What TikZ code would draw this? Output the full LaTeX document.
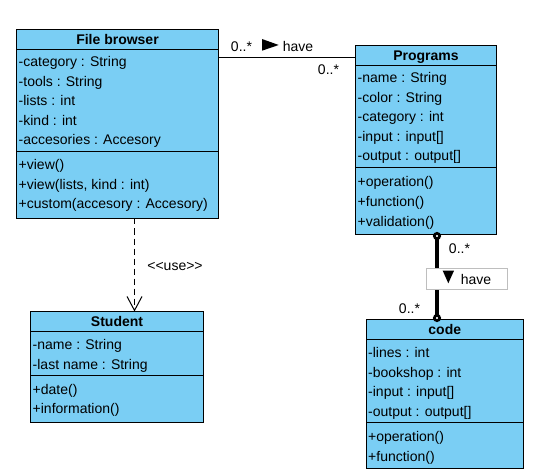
\documentclass[tikz,border=0pt]{standalone}
\usepackage{fontspec}
\setmainfont{Liberation Sans}
\usetikzlibrary{arrows.meta}
\definecolor{classblue}{RGB}{122,206,244}
\definecolor{labelgray}{RGB}{190,190,190}
\begin{document}
\begin{tikzpicture}[x=1pt, y=-1pt, font=\fontsize{14}{17}\selectfont]
       \tikzset{>=latex}
       \tikzset{classbox/.style={draw, fill=classblue, line width=1pt, inner sep=0pt, outer sep=0pt},
                classtitle/.style={font=\fontsize{14}{17}\selectfont\bfseries, inner sep=0pt, text height=10pt, text depth=0pt},
                member/.style={anchor=west, inner sep=0pt, text height=13pt, text depth=3pt},
                mult/.style={inner sep=0pt},
                labelbox/.style={draw=labelgray, fill=white, line width=1pt, inner sep=0pt},
                endball/.style={circle, draw=black, fill=white, line width=2.7pt, minimum size=5.3pt, inner sep=0pt}}
       \useasboundingbox (0,0) rectangle (538,473);

       \node[classbox, minimum width=202, minimum height=189] (browser) at (117.5,124) {};
       \node[classbox, minimum width=141, minimum height=188.5] (programs) at (426,139.75) {};
       \node[classbox, minimum width=173, minimum height=111] (student) at (117,367) {};
       \node[classbox, minimum width=157.5, minimum height=149] (code) at (444.75,394) {};

       \draw[line width=1pt] (16.5,49.5) -- (218.5,49.5);
       \draw[line width=1pt] (16.5,151.3) -- (218.5,151.3);
       \draw[line width=1pt] (355.5,65.3) -- (496.5,65.3);
       \draw[line width=1pt] (355.5,167.3) -- (496.5,167.3);
       \draw[line width=1pt] (30.5,331.7) -- (203.5,331.7);
       \draw[line width=1pt] (30.5,375.7) -- (203.5,375.7);
       \draw[line width=1pt] (366,339.3) -- (523.5,339.3);
       \draw[line width=1pt] (366,422.7) -- (523.5,422.7);

       \node[classtitle] (bt) at (117.5,39.5) {File browser};
       \node[member] (b1) at (18.5,62) {-category : String};
       \node[member] (b2) at (18.5,81.5) {-tools : String};
       \node[member] (b3) at (18.5,101) {-lists : int};
       \node[member] (b4) at (18.5,120.5) {-kind : int};
       \node[member] (b5) at (18.5,140) {-accesories : Accesory};
       \node[member] (b6) at (18.5,165) {+view()};
       \node[member] (b7) at (18.5,184.5) {+view(lists, kind : int)};
       \node[member] (b8) at (18.5,204) {+custom(accesory : Accesory)};

       \node[classtitle] (pt) at (426,55.5) {Programs};
       \node[member] (p1) at (357.5,78) {-name : String};
       \node[member] (p2) at (357.5,97.5) {-color : String};
       \node[member] (p3) at (357.5,117) {-category : int};
       \node[member] (p4) at (357.5,136.5) {-input : input[]};
       \node[member] (p5) at (357.5,156) {-output : output[]};
       \node[member] (p6) at (357.5,182) {+operation()};
       \node[member] (p7) at (357.5,201.5) {+function()};
       \node[member] (p8) at (357.5,221) {+validation()};

       \node[classtitle] (st) at (117,321.7) {Student};
       \node[member] (s1) at (32.5,344.3) {-name : String};
       \node[member] (s2) at (32.5,364) {-last name : String};
       \node[member] (s3) at (32.5,389.3) {+date()};
       \node[member] (s4) at (32.5,408.5) {+information()};

       \node[classtitle] (ct) at (444.75,329.3) {code};
       \node[member] (c1) at (368,352.7) {-lines : int};
       \node[member] (c2) at (368,372.2) {-bookshop : int};
       \node[member] (c3) at (368,391.7) {-input : input[]};
       \node[member] (c4) at (368,411.2) {-output : output[]};
       \node[member] (c5) at (368,436.7) {+operation()};
       \node[member] (c6) at (368,456) {+function()};

       \coordinate (havestart) at ([yshift=-28pt]browser.north east);
       \draw[line width=1pt] (havestart) -- (havestart -| programs.west);
       \node[mult] (m1) at (241.5,46.7) {0..*};
       \fill (262,39) -- (278.7,45) -- (262,50.7) -- cycle;
       \node[mult] (h1) at (298,46.7) {have};
       \node[mult] (m2) at (328.5,69.3) {0..*};

       \coordinate (progend) at ([xshift=11pt]programs.south);
       \draw[line width=3.5pt] (progend) -- (progend |- code.north);
       \node[labelbox, minimum width=81.5, minimum height=21] (havebox) at (466.8,278.8) {};
       \fill (442.7,270.7) -- (454,270.7) -- (448.3,283.3) -- cycle;
       \node[mult] (h2) at (476,279.3) {have};
       \node[endball] (topball) at ([yshift=-2pt]progend) {};
       \node[endball] (botball) at ([yshift=1.5pt]progend |- code.north) {};
       \node[mult] (m3) at (459.5,248.3) {0..*};
       \node[mult] (m4) at (409.5,308.3) {0..*};

       \coordinate (usestart) at ([xshift=17pt]browser.south);
       \draw[line width=1pt, dash pattern=on 6pt off 4pt, -{Straight Barb[length=14pt,width=15pt]}] (usestart) -- (usestart |- student.north);
       \node[mult] (uselabel) at (175,266.7) {<\kern0pt<use>\kern0pt>};
   \end{tikzpicture}
\end{document}
